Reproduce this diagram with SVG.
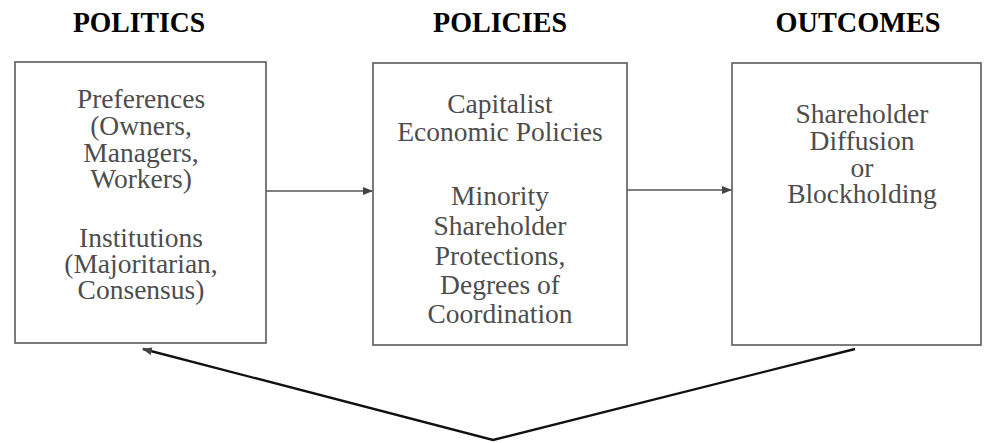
<svg xmlns="http://www.w3.org/2000/svg" width="985" height="443" viewBox="0 0 985 443">
<defs>
<marker id="ah" markerWidth="10" markerHeight="8" refX="9" refY="4" orient="auto" markerUnits="userSpaceOnUse">
<path d="M0,0 L10,4 L0,8 Z" fill="#444"/>
</marker>
<style>
.box{fill:#fff;stroke:#5a5a5a;stroke-width:1.6}
.hd{font-family:"Liberation Serif","Times New Roman",serif;font-weight:bold;font-size:30px;fill:#000;text-anchor:middle}
.tx{font-family:"Liberation Serif","Times New Roman",serif;font-size:27.5px;fill:#4d4d4d;text-anchor:middle}
.conn{fill:none;stroke:#555;stroke-width:1.4}
.fb{fill:none;stroke:#111;stroke-width:2.4}
</style>
</defs>
<rect width="985" height="443" fill="#fff"/>
<g id="headers">
<text class="hd" x="139" y="32" textLength="132" lengthAdjust="spacingAndGlyphs">POLITICS</text>
<text class="hd" x="500" y="32" textLength="134" lengthAdjust="spacingAndGlyphs">POLICIES</text>
<text class="hd" x="858" y="32" textLength="165" lengthAdjust="spacingAndGlyphs">OUTCOMES</text>
</g>
<g id="politics">
<rect class="box" x="15" y="62" width="251" height="281"/>
<text class="tx" x="141" y="108">Preferences</text>
<text class="tx" x="141" y="135">(Owners,</text>
<text class="tx" x="141" y="162">Managers,</text>
<text class="tx" x="141" y="188">Workers)</text>
<text class="tx" x="141" y="247">Institutions</text>
<text class="tx" x="141" y="273">(Majoritarian,</text>
<text class="tx" x="141" y="299">Consensus)</text>
</g>
<g id="policies">
<rect class="box" x="373" y="63" width="254" height="282"/>
<text class="tx" x="500" y="113">Capitalist</text>
<text class="tx" x="500" y="141">Economic Policies</text>
<text class="tx" x="500" y="205">Minority</text>
<text class="tx" x="500" y="235">Shareholder</text>
<text class="tx" x="500" y="265">Protections,</text>
<text class="tx" x="500" y="294">Degrees of</text>
<text class="tx" x="500" y="323">Coordination</text>
</g>
<g id="outcomes">
<rect class="box" x="732" y="63" width="249" height="282"/>
<text class="tx" x="862" y="123">Shareholder</text>
<text class="tx" x="862" y="150">Diffusion</text>
<text class="tx" x="862" y="177">or</text>
<text class="tx" x="862" y="203">Blockholding</text>
</g>
<g id="connectors">
<line class="conn" x1="266" y1="191" x2="372" y2="191" marker-end="url(#ah)"/>
<line class="conn" x1="627" y1="190" x2="731" y2="190" marker-end="url(#ah)"/>
<polyline class="fb" points="855,349 493,440 143,349" marker-end="url(#ah)"/>
</g>
</svg>
